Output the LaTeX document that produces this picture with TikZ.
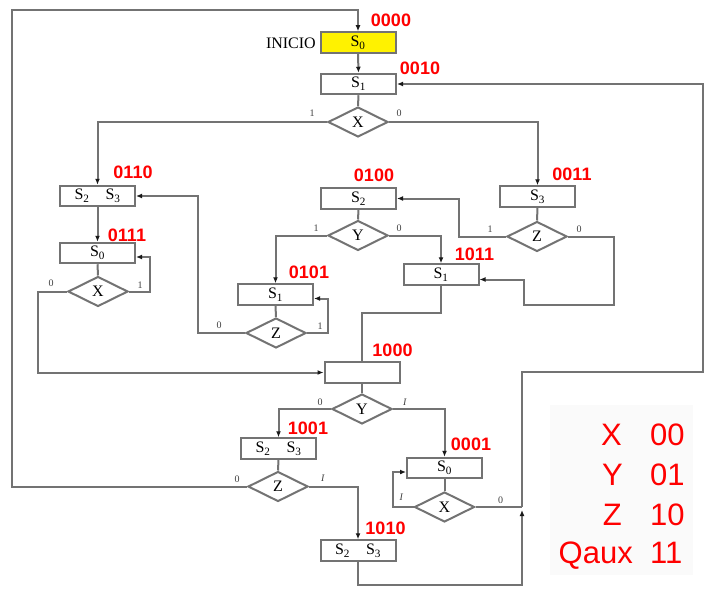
\documentclass[tikz,border=0pt]{standalone}
\usepackage{fontspec}
\setmainfont{Liberation Serif}
\newfontfamily\arialfont{Liberation Sans}
\usetikzlibrary{arrows.meta,shapes.geometric}
\definecolor{gris}{RGB}{115,115,115}
\definecolor{rojo}{RGB}{255,0,0}
\definecolor{fondo}{RGB}{250,250,250}
\tikzset{
    estado/.style={
        draw=gris, line width=2pt, fill=white,
        minimum width=75pt, minimum height=20.5pt, inner sep=0pt,
        font=\fontsize{16}{16}\selectfont
    },
    decision/.style={
        diamond, draw=gris, line width=2pt, fill=white, aspect=2,
        minimum width=60pt, minimum height=30pt, inner sep=1pt,
        font=\fontsize{16}{16}\selectfont
    },
    codigo/.style={
        text=rojo, inner sep=0pt,
        font=\arialfont\bfseries\fontsize{18}{18}\selectfont
    },
    etq/.style={
        text=black!75, inner sep=0pt,
        font=\fontsize{10}{10}\selectfont
    },
    conector/.style={
        draw=gris, line width=2pt
    },
    flecha/.style={
        conector,
        -{Latex[length=6pt,width=5pt,color=black!90]}
    },
    leyenda/.style={
        text=rojo, inner sep=0pt,
        font=\arialfont\fontsize{31}{31}\selectfont
    }
}
\begin{document}
\begin{tikzpicture}[x=1pt,y=-1pt]
                \useasboundingbox (0,0) rectangle (709,591);
                \coordinate (esq) at (12,10);
                \coordinate (junta) at (522,507);
                \coordinate (retorno) at (703,372);

                \fill[fondo] (550,405) rectangle (693,575);

                \node[estado, fill=yellow] (s0ini) at (358,42.5) {S\textsubscript{0}};
                \node[anchor=east, inner sep=0pt, font=\fontsize{16}{16}\selectfont] (inicio) at (316,43) {INICIO};
                \node[estado] (s1a) at (358.5,84) {S\textsubscript{1}};
                \node[decision] (dx1) at (358,122) {X};

                \node[estado] (s23a) at (97.5,196) {S\textsubscript{2}\hspace{16pt}S\textsubscript{3}};
                \node[estado] (s0b) at (97.5,253) {S\textsubscript{0}};
                \node[decision] (dx2) at (98,291.5) {X};

                \node[estado] (s2) at (358.5,198.5) {S\textsubscript{2}};
                \node[decision] (dy1) at (358,235.5) {Y};
                \node[estado] (s1b) at (275.5,294.5) {S\textsubscript{1}};
                \node[decision] (dz1) at (276,333) {Z};

                \node[estado] (s3) at (537.5,196.5) {S\textsubscript{3}};
                \node[decision] (dz2) at (537,236.5) {Z};
                \node[estado] (s1c) at (441,274.5) {S\textsubscript{1}};

                \node[estado] (q1000) at (362,372.5) {};
                \node[decision] (dy2) at (362,409) {Y};
                \node[estado] (s23b) at (278.5,448.5) {S\textsubscript{2}\hspace{16pt}S\textsubscript{3}};
                \node[decision] (dz3) at (278,486.5) {Z};
                \node[estado] (s0c) at (444.5,468) {S\textsubscript{0}};
                \node[decision] (dx3) at (444.5,507) {X};
                \node[estado] (s23c) at (358,550.5) {S\textsubscript{2}\hspace{16pt}S\textsubscript{3}};

                \node[codigo] (c0000) at (391,20) {0000};
                \node[codigo] (c0010) at (420,68) {0010};
                \node[codigo] (c0110) at (133,172) {0110};
                \node[codigo] (c0111) at (127,235) {0111};
                \node[codigo] (c0100) at (374,175) {0100};
                \node[codigo] (c0011) at (572,174) {0011};
                \node[codigo] (c0101) at (309,272) {0101};
                \node[codigo] (c1011) at (474.5,254) {1011};
                \node[codigo] (c1000) at (392.5,350) {1000};
                \node[codigo] (c1001) at (308,428) {1001};
                \node[codigo] (c0001) at (471,444) {0001};
                \node[codigo] (c1010) at (385.5,528) {1010};

                \draw[flecha] (s0ini.south) -- (s1a.north);
                \draw[conector] (s1a.south) -- (dx1.north);
                \draw[flecha] (dx1.west) -| (s23a.north);
                \draw[flecha] (dx1.east) -| (s3.north);
                \draw[flecha] (s23a.south) -- (s0b.north);
                \draw[conector] (s0b.south) -- (dx2.north);
                \draw[flecha] (dx2.east) -- ++(21,0) |- ([yshift=-4pt]s0b.east);
                \draw[flecha] (dx2.west) -- ++(-29,0) |- (q1000.west);
                \draw[conector] (s2.south) -- (dy1.north);
                \draw[flecha] (dy1.west) -| (s1b.north);
                \draw[flecha] (dy1.east) -| (s1c.north);
                \draw[conector] (s1b.south) -- (dz1.north);
                \draw[flecha] (dz1.east) -- ++(21,0) |- ([yshift=-4pt]s1b.east);
                \draw[flecha] (dz1.west) -- ++(-47,0) |- (s23a.east);
                \draw[conector] (s3.south) -- (dz2.north);
                \draw[flecha] (dz2.west) -- ++(-47,0) |- (s2.east);
                \draw[flecha] (dz2.east) -- ++(46,0) -- ++(0,68) -- ++(-90,0) |- ([yshift=-5pt]s1c.east);
                \draw[conector] (s1c.south) -- ++(0,27) -| (q1000.north);
                \draw[conector] (q1000.south) -- (dy2.north);
                \draw[flecha] (dy2.west) -| (s23b.north);
                \draw[flecha] (dy2.east) -| (s0c.north);
                \draw[conector] (s23b.south) -- (dz3.north);
                \draw[flecha] (dz3.east) -| (s23c.north);
                \draw[flecha] (dz3.west) -| (esq) -| (s0ini.north);
                \draw[conector] (s0c.south) -- (dx3.north);
                \draw[flecha] (dx3.west) -- ++(-21,0) |- ([yshift=-4pt]s0c.west);
                \draw[conector] (dx3.east) -- (junta);
                \draw[flecha, shorten >=-2pt] (s23c.south) -- ++(0,23) -| ([yshift=-5pt]junta);
                \draw[flecha] (junta) |- (retorno) |- (s1a.east);

                \node[etq] (e1) at ([shift={(-15,-9)}]dx1.west) {1};
                \node[etq] (e2) at ([shift={(10,-9)}]dx1.east) {0};
                \node[etq] (e3) at ([shift={(11,-6)}]dx2.east) {1};
                \node[etq] (e4) at ([shift={(-16,-8)}]dx2.west) {0};
                \node[etq] (e5) at ([shift={(-11,-7)}]dy1.west) {1};
                \node[etq] (e6) at ([shift={(10,-7)}]dy1.east) {0};
                \node[etq] (e7) at ([shift={(13,-7)}]dz1.east) {1};
                \node[etq] (e8) at ([shift={(-26,-8)}]dz1.west) {0};
                \node[etq] (e9) at ([shift={(-16,-7)}]dz2.west) {1};
                \node[etq] (e10) at ([shift={(11,-7)}]dz2.east) {0};
                \node[etq] (e11) at ([shift={(-11,-7)}]dy2.west) {0};
                \node[etq] (e12) at ([shift={(12,-7)}]dy2.east) {\textit{I}};
                \node[etq] (e13) at ([shift={(-10,-7)}]dz3.west) {0};
                \node[etq] (e14) at ([shift={(14,-8)}]dz3.east) {\textit{I}};
                \node[etq] (e15) at ([shift={(-12,-10)}]dx3.west) {\textit{I}};
                \node[etq] (e16) at ([shift={(25,-7)}]dx3.east) {0};

                \node[leyenda, anchor=base east] (lx) at (622,445) {X};
                \node[leyenda, anchor=base east] (ly) at (623,485) {Y};
                \node[leyenda, anchor=base east] (lz) at (622,525) {Z};
                \node[leyenda, anchor=base east] (lq) at (633,563) {Qaux};
                \node[leyenda, anchor=base west] (vx) at (650,445) {00};
                \node[leyenda, anchor=base west] (vy) at (650,485) {01};
                \node[leyenda, anchor=base west] (vz) at (650,525) {10};
                \node[leyenda, anchor=base west] (vq) at (650,563) {11};
\end{tikzpicture}
\end{document}
